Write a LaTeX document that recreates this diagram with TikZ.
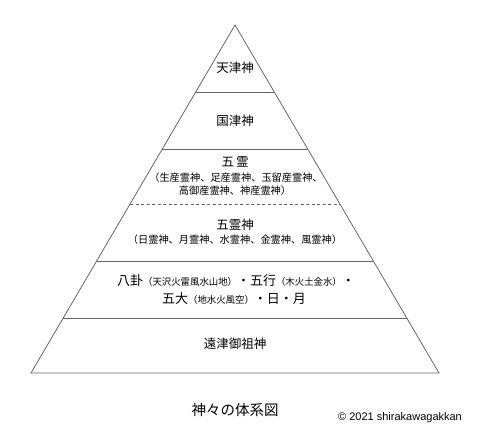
\documentclass[tikz,border=0pt]{standalone}
\usepackage{fontspec}
\newfontfamily\cjk{Noto Sans CJK JP}
\setsansfont{Liberation Sans}
\usetikzlibrary{calc}
\tikzset{
  edge/.style={draw=black!60, line width=0.8pt},
  lvl/.style={inner sep=0pt, font=\cjk\fontsize{12.5}{14}\selectfont},
  sub/.style={inner sep=0pt, font=\cjk\fontsize{10.2}{12}\selectfont},
}
\begin{document}
\begin{tikzpicture}[x=1pt,y=-1pt]
\useasboundingbox (0,0) rectangle (480,440);
\coordinate (A) at (235,25);
\coordinate (BL) at (31,373);
\coordinate (BR) at (439,373);
\draw[edge] (A) -- (BL) -- (BR) -- cycle;
\foreach \t in {0.1925,0.3563,0.6782,0.8420}{
  \draw[edge] ($(A)!\t!(BL)$) -- ($(A)!\t!(BR)$);
}
\draw[edge, dashed, dash pattern=on 3pt off 2.5pt] ($(A)!0.5144!(BL)$) -- ($(A)!0.5144!(BR)$);

\node[lvl] (t1) at (235,68) {天津神};
\node[lvl] (t2) at (235,121) {国津神};
\node[lvl] (t3) at (235,162) {五\kern2pt 霊};
\node[sub] (t3a) at (236,178) {（生産霊神、足産霊神、玉留産霊神、};
\node[sub] (t3b) at (235,191) {高御産霊神、神産霊神）};
\node[lvl] (t4) at (235,225) {五霊神};
\node[sub] (t4a) at (235,240) {（日霊神、月霊神、水霊神、金霊神、風霊神）};
\node[inner sep=0pt] (t5a) at (236,281) {\cjk\fontsize{13}{14}\selectfont 八卦{\fontsize{9.4}{10}\selectfont（天沢火雷風水山地）}・五行{\fontsize{9.4}{10}\selectfont（木火土金水）}・};
\node[inner sep=0pt] (t5b) at (234,299) {\cjk\fontsize{13}{14}\selectfont 五大{\fontsize{9.4}{10}\selectfont（地水火風空）}・日・月};
\node[lvl] (t6) at (235,344) {遠津御祖神};
\node[inner sep=0pt, font=\cjk\fontsize{14.5}{16}\selectfont] (title) at (235,410) {神々の体系図};
\node[inner sep=0pt, anchor=west, font=\sffamily\fontsize{11}{12}\selectfont] (copy) at (338,418) {© 2021 shirakawagakkan};
\end{tikzpicture}
\end{document}
